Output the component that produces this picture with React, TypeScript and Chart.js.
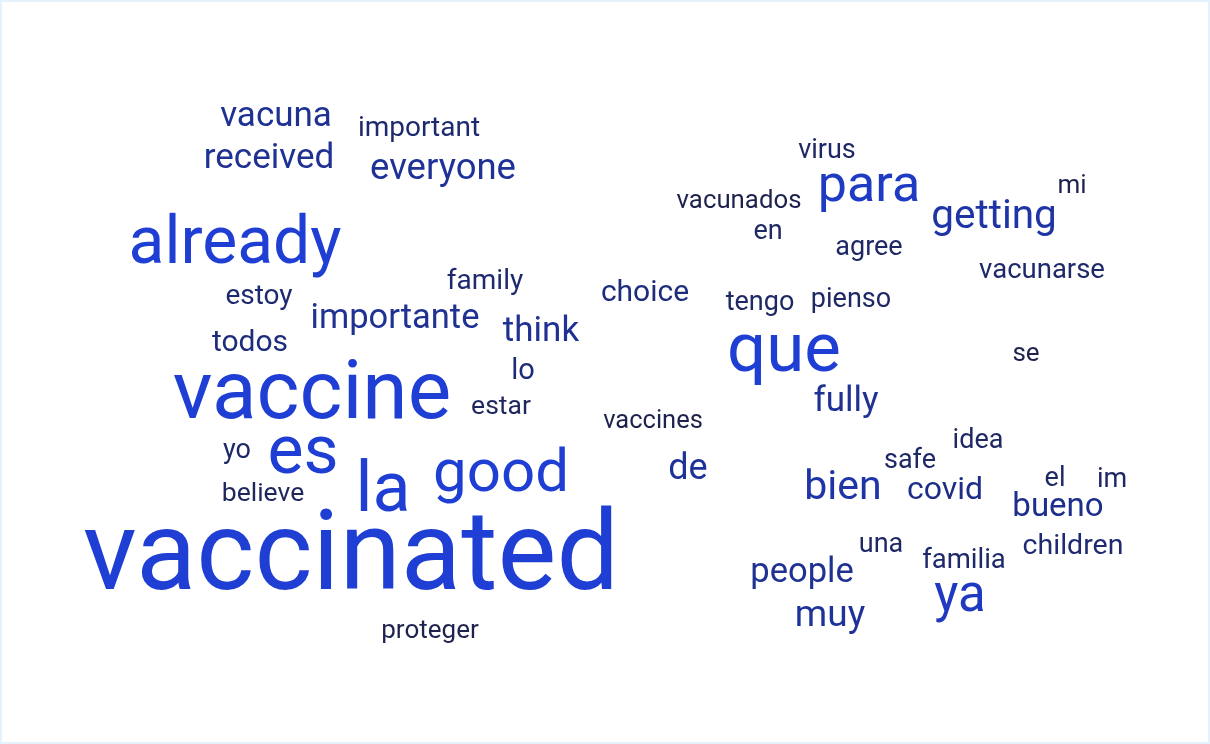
import React, { useEffect, useRef } from "react";
import { Chart, registerables } from "chart.js";

Chart.register(...registerables);

const words = [
  "vaccinated", "vaccine", "already", "que", "es", "la", "good", "para", "ya", "getting",
  "bien", "importante", "everyone", "vacuna", "received", "think", "fully", "de", "people", "muy",
  "bueno", "covid", "choice", "family", "important", "todos", "estoy", "lo", "estar", "vaccines",
  "yo", "believe", "proteger", "virus", "vacunados", "en", "agree", "tengo", "pienso", "mi",
  "vacunarse", "se", "idea", "safe", "el", "im", "una", "familia", "children",
];
const xs = [
  351, 312, 235, 784, 303, 383, 501, 869, 960, 994,
  843, 395, 443, 276, 269, 541, 846, 688, 802, 830,
  1058, 945, 645, 485, 419, 250, 259, 523, 501, 653,
  237, 263, 430, 827, 739, 768, 869, 760, 851, 1072,
  1042, 1026, 978, 910, 1055, 1112, 881, 964, 1073,
];
const ys = [
  589, 418, 263, 371, 473, 511, 491, 201, 611, 228,
  499, 328, 179, 126, 168, 341, 411, 479, 582, 626,
  516, 499, 301, 289, 136, 351, 304, 379, 414, 428,
  458, 501, 638, 158, 208, 239, 255, 310, 307, 193,
  278, 361, 448, 468, 486, 487, 552, 568, 554,
];
const weights = [
  111, 82, 66, 69, 68, 70, 60, 52, 51, 40.5,
  41, 34.5, 36.5, 35, 35, 35, 35, 36, 34.5, 37,
  33, 32, 30, 28, 28, 30, 28, 29, 26.5, 25.5,
  27, 26.5, 26, 27, 25.8, 27, 27, 27, 27, 26,
  27.5, 26, 27, 27, 27, 27, 27, 27.5, 28.5,
];

function colorFor(w: number): string {
  const t = Math.sqrt(Math.max(0, Math.min(1, (w - 26) / 34)));
  const dark = [30, 35, 78];
  const bright = [31, 62, 212];
  const c = dark.map((d, i) => Math.round(d + (bright[i] - d) * t));
  return `rgb(${c[0]},${c[1]},${c[2]})`;
}

const wordPlugin = {
  id: "wordCloudText",
  afterDatasetsDraw(chart: any) {
    const ctx = chart.ctx;
    const meta = chart.getDatasetMeta(0);
    ctx.save();
    ctx.textAlign = "center";
    ctx.textBaseline = "alphabetic";
    meta.data.forEach((pt: any, i: number) => {
      const w = weights[i];
      ctx.font = `${w}px Roboto`;
      ctx.fillStyle = colorFor(w);
      ctx.fillText(words[i], pt.x, pt.y);
    });
    ctx.restore();
  },
};

export default function App() {
  const ref = useRef<HTMLCanvasElement | null>(null);
  useEffect(() => {
    if (!ref.current) return;
    const chart = new Chart(ref.current, {
      type: "scatter",
      data: {
        datasets: [
          {
            data: words.map((_, i) => ({ x: xs[i], y: ys[i] })),
            pointRadius: 0,
            pointHoverRadius: 0,
          },
        ],
      },
      options: {
        responsive: false,
        animation: false,
        devicePixelRatio: 1,
        layout: { padding: 0 },
        plugins: { legend: { display: false }, tooltip: { enabled: false } },
        scales: {
          x: { type: "linear", min: 0, max: 1210, display: false },
          y: { type: "linear", min: 0, max: 744, reverse: true, display: false },
        },
      },
      plugins: [wordPlugin],
    });
    return () => chart.destroy();
  }, []);
  return (
    <div
      style={{
        position: "fixed",
        left: 0,
        top: 0,
        width: 1210,
        height: 744,
        background: "#ffffff",
        boxShadow: "inset 0 0 0 2px #e6f2fb",
      }}
    >
      <canvas ref={ref} width={1210} height={744} style={{ display: "block" }} />
    </div>
  );
}
